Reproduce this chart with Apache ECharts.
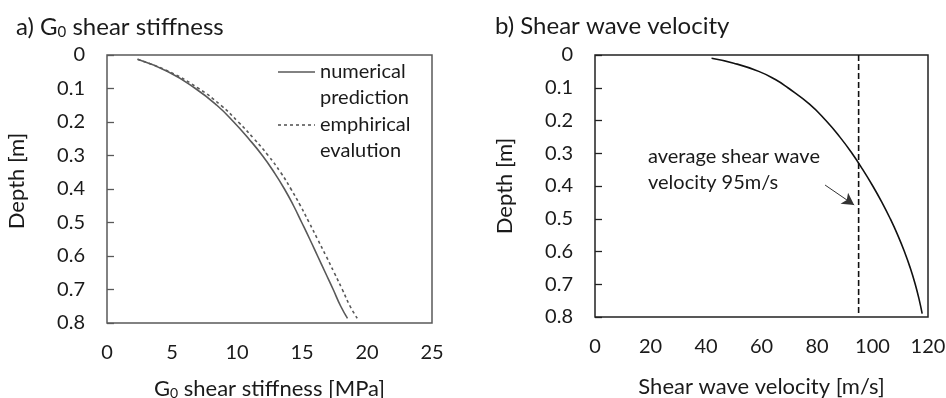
<!DOCTYPE html>
<html>
<head>
<meta charset="utf-8">
<script src="https://cdn.jsdelivr.net/npm/echarts@6/dist/echarts.min.js"></script>
<style>
html,body{margin:0;padding:0;background:#fff;}
#chart{width:946px;height:398px;}
</style>
</head>
<body>
<div id="chart"></div>
<script>
// ---- data ----
const depthA = [0.013, 0.05, 0.1, 0.15, 0.2, 0.25, 0.3, 0.35, 0.4, 0.45, 0.5, 0.55, 0.6, 0.65, 0.7, 0.75, 0.786];
const numericalG0 = [2.35, 4.7, 6.8, 8.45, 9.75, 10.9, 11.95, 12.85, 13.65, 14.35, 14.98, 15.6, 16.2, 16.8, 17.4, 17.98, 18.5];
const empiricalG0 = [2.35, 4.8, 7.05, 8.75, 10.1, 11.3, 12.4, 13.35, 14.15, 14.88, 15.55, 16.2, 16.85, 17.48, 18.1, 18.7, 19.25];

const depthB = [0.01, 0.025, 0.05, 0.075, 0.1, 0.15, 0.2, 0.25, 0.3, 0.35, 0.4, 0.45, 0.5, 0.55, 0.6, 0.65, 0.7, 0.75, 0.79];
const velocity = [42, 50, 59, 65.0, 69.5, 77.3, 83.2, 88.2, 92.6, 96.5, 100.1, 103.4, 106.4, 109.1, 111.5, 113.6, 115.4, 116.9, 117.9];

const avgVelocity = 95;
const avgLineDepth = [0, 0.79];
const arrowFrom = [82.9, 0.397];
const arrowTo = [93.4, 0.458];

const xTicksA = [0, 5, 10, 15, 20, 25];
const xTicksB = [0, 20, 40, 60, 80, 100, 120];
const depthTicks = [0, 0.1, 0.2, 0.3, 0.4, 0.5, 0.6, 0.7, 0.8];

const legendLabels = [['numerical', 'prediction'], ['emphirical', 'evalution']];
const annotationLines = ['average shear wave', 'velocity 95m/s'];

// ---- chart ----
const FONT = 'Lato';
const TXT = '#1a1a1a';
const GRAY = '#595959';
const chart = echarts.init(document.getElementById('chart'), null, {renderer: 'canvas'});

function pairs(xs, ys) { return xs.map((x, i) => [x, ys[i]]); }

function yAxis(gridIndex, color, pad) {
  return {
    type: 'value', gridIndex, inverse: true,
    min: depthTicks[0], max: depthTicks[depthTicks.length - 1], interval: 0.1,
    name: 'Depth [m]', nameLocation: 'middle', nameGap: 79, nameRotate: 90,
    nameTextStyle: {fontFamily: FONT, fontSize: 22, color: TXT, padding: pad},
    axisLine: {show: false},
    axisTick: {show: true, inside: true, length: 7, lineStyle: {color, width: 1.3}},
    splitLine: {show: false},
    axisLabel: {margin: 22, fontFamily: FONT, fontSize: 20, color: TXT,
      formatter: v => v === 0 ? '0' : v.toFixed(1)}
  };
}

function xAxis(gridIndex, ticks, name, gap, rich) {
  return {
    type: 'value', gridIndex, min: ticks[0], max: ticks[ticks.length - 1],
    interval: ticks[1] - ticks[0],
    name, nameLocation: 'middle', nameGap: gap,
    nameTextStyle: {fontFamily: FONT, fontSize: 22, color: TXT, rich},
    axisLine: {show: false}, axisTick: {show: false}, splitLine: {show: false},
    axisLabel: {margin: 20, fontFamily: FONT, fontSize: 20, color: TXT}
  };
}

const subRich = {
  s: {fontFamily: FONT, fontSize: 14, color: TXT, padding: [9, 0, 0, 0]}
};

const option = {
  backgroundColor: '#fff',
  animation: false,
  title: [
    {text: 'a) G{s|0} shear stiffness', left: 11, top: 9,
      textStyle: {fontFamily: FONT, fontSize: 24, fontWeight: 'normal', color: TXT,
        rich: {s: {fontFamily: FONT, fontSize: 15, color: TXT, padding: [11, 0, 0, 0]}}}},
    {text: 'b) Shear wave velocity', left: 490, top: 9,
      textStyle: {fontFamily: FONT, fontSize: 24, fontWeight: 'normal', color: TXT}}
  ],
  grid: [
    {left: 107, top: 55, width: 325, height: 268, show: true, borderColor: GRAY, borderWidth: 1.5,
      backgroundColor: 'transparent', containLabel: false, outerBoundsMode: 'none'},
    {left: 595, top: 55, width: 333, height: 262, show: true, borderColor: '#222', borderWidth: 1.5,
      backgroundColor: 'transparent', containLabel: false, outerBoundsMode: 'none'}
  ],
  xAxis: [
    xAxis(0, xTicksA, 'G{s|0} shear stiffness [MPa]', 54, subRich),
    xAxis(1, xTicksB, 'Shear wave velocity [m/s]', 59)
  ],
  yAxis: [yAxis(0, GRAY, [0, 0, 0, 16]), yAxis(1, '#222', [0, 0, 0, 0])],
  series: [
    {name: 'numerical prediction', type: 'line', xAxisIndex: 0, yAxisIndex: 0,
      data: pairs(numericalG0, depthA), smooth: 0.5, showSymbol: false, symbol: 'none',
      lineStyle: {color: GRAY, width: 1.6}},
    {name: 'emphirical evalution', type: 'line', xAxisIndex: 0, yAxisIndex: 0,
      data: pairs(empiricalG0, depthA), smooth: 0.5, showSymbol: false, symbol: 'none',
      lineStyle: {color: GRAY, width: 1.6, type: [3, 3]}},
    {name: 'Shear wave velocity', type: 'line', xAxisIndex: 1, yAxisIndex: 1,
      data: pairs(velocity, depthB), smooth: 0.5, showSymbol: false, symbol: 'none',
      lineStyle: {color: '#111', width: 1.6},
      markLine: {
        silent: true, symbol: ['none', 'arrow'], symbolSize: [10, 12],
        lineStyle: {color: '#333', width: 1, type: 'solid'}, label: {show: false},
        data: [[{coord: arrowFrom}, {coord: arrowTo}]]
      }},
    {name: 'average', type: 'line', xAxisIndex: 1, yAxisIndex: 1,
      data: avgLineDepth.map(d => [avgVelocity, d]), showSymbol: false, symbol: 'none',
      lineStyle: {color: '#111', width: 1.6, type: [6, 3]}}
  ],
  graphic: [
    {type: 'line', shape: {x1: 278, y1: 72, x2: 315, y2: 72}, style: {stroke: GRAY, lineWidth: 1.6}},
    {type: 'line', shape: {x1: 278, y1: 125, x2: 315, y2: 125}, style: {stroke: GRAY, lineWidth: 1.6, lineDash: [3, 3]}},
    {type: 'text', x: 320, y: 72, style: {text: legendLabels[0][0], font: '20px ' + FONT, fill: TXT, verticalAlign: 'middle'}},
    {type: 'text', x: 320, y: 98, style: {text: legendLabels[0][1], font: '20px ' + FONT, fill: TXT, verticalAlign: 'middle'}},
    {type: 'text', x: 320, y: 125, style: {text: legendLabels[1][0], font: '20px ' + FONT, fill: TXT, verticalAlign: 'middle'}},
    {type: 'text', x: 320, y: 151, style: {text: legendLabels[1][1], font: '20px ' + FONT, fill: TXT, verticalAlign: 'middle'}},
    {type: 'text', x: 648, y: 157, style: {text: annotationLines[0], font: '20px ' + FONT, fill: TXT, verticalAlign: 'middle'}},
    {type: 'text', x: 648, y: 183, style: {text: annotationLines[1], font: '20px ' + FONT, fill: TXT, verticalAlign: 'middle'}}
  ]
};
chart.setOption(option);
</script>
</body>
</html>
